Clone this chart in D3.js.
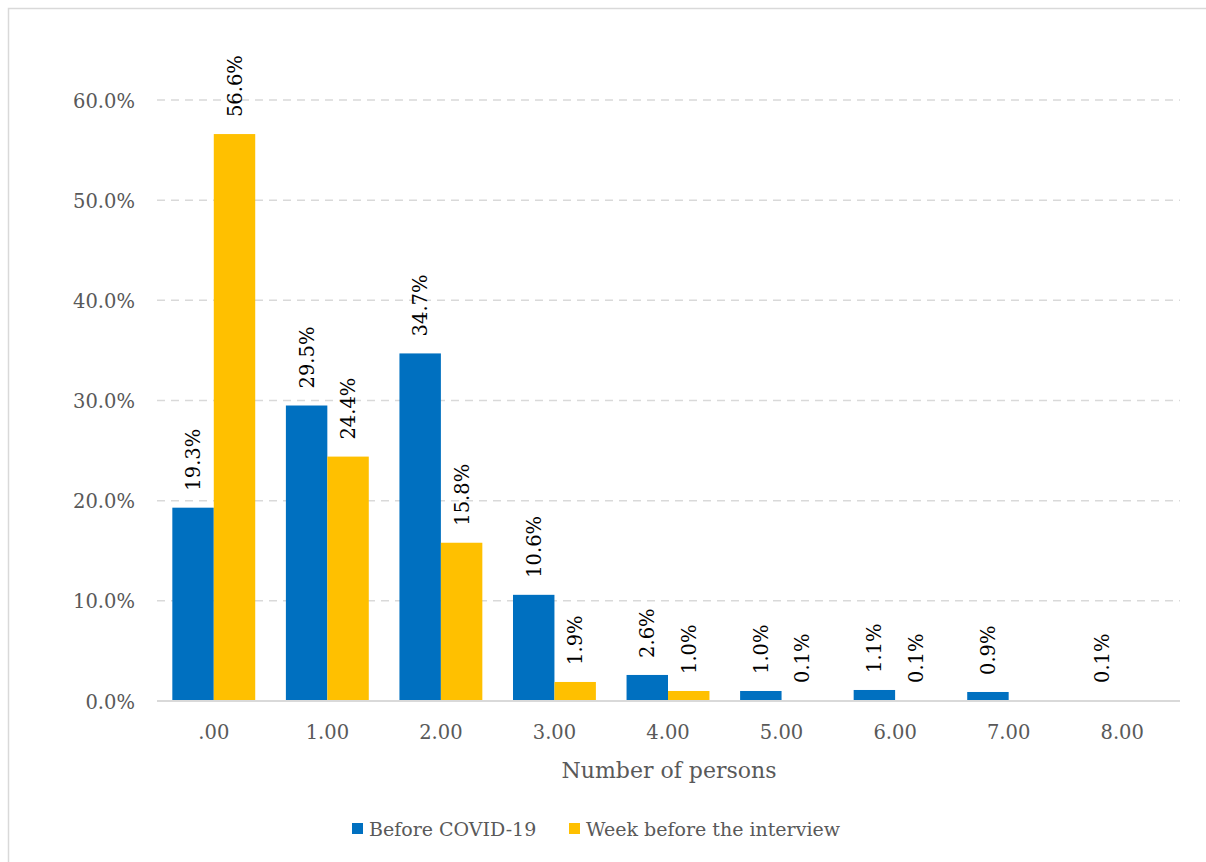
<!DOCTYPE html>
<html>
<head>
<meta charset="utf-8">
<script src="https://cdn.jsdelivr.net/npm/d3@7"></script>
<style>
  html, body { margin: 0; padding: 0; background: #fff; }
  svg { display: block; }
  text { font-family: "DejaVu Serif", serif; }
</style>
</head>
<body>
<svg id="chart" width="1206" height="862"></svg>
<script>
const categories = [".00", "1.00", "2.00", "3.00", "4.00", "5.00", "6.00", "7.00", "8.00"];
const seriesNames = ["Before COVID-19", "Week before the interview"];
const beforeCovid = [19.3, 29.5, 34.7, 10.6, 2.6, 1.0, 1.1, 0.9, 0.1];
const weekBefore = [56.6, 24.4, 15.8, 1.9, 1.0, 0.1, 0.1, null, null];
const yTicks = [0, 10, 20, 30, 40, 50, 60];
const colors = ["#0070C0", "#FFC000"];

const svg = d3.select("#chart");
const W = 1206, H = 862;

// outer chart border (only top/left visible in frame)
svg.append("rect")
  .attr("x", 8.5).attr("y", 8.5)
  .attr("width", W + 20).attr("height", H + 20)
  .attr("fill", "#fff").attr("stroke", "#d9d9d9").attr("stroke-width", 1.5);

const x0 = d3.scaleBand().domain(categories).range([157, 1179])
  .paddingInner(0.27).paddingOuter(0.135);
const x1 = d3.scaleBand().domain([0, 1]).range([0, x0.bandwidth()]);
const y = d3.scaleLinear().domain([0, 60]).range([701, 100]);

// gridlines
svg.append("g").selectAll("line").data(yTicks.filter(d => d > 0)).join("line")
  .attr("x1", 157).attr("x2", 1180)
  .attr("y1", d => y(d)).attr("y2", d => y(d))
  .attr("stroke", "#d9d9d9").attr("stroke-width", 1.5)
  .attr("stroke-dasharray", "8,6");

// y axis labels
const yAxis = d3.axisLeft(y).tickValues(yTicks).tickSize(0).tickPadding(0)
  .tickFormat(d => d.toFixed(1) + "%");
const gy = svg.append("g").attr("transform", "translate(135,0)").call(yAxis);
gy.select(".domain").remove();
gy.selectAll("text").attr("font-family", "DejaVu Serif").attr("font-size", 19.5)
  .attr("fill", "#595959").attr("dy", "0.36em");

// bars
const rows = categories.map((c, i) => ({ cat: c, vals: [beforeCovid[i], weekBefore[i]] }));
const groups = svg.append("g").selectAll("g").data(rows).join("g")
  .attr("transform", d => `translate(${x0(d.cat)},0)`);

groups.selectAll("rect").data(d => d.vals.map((v, k) => ({ v, k })).filter(e => e.v != null)).join("rect")
  .attr("x", e => x1(e.k)).attr("width", x1.bandwidth())
  .attr("y", e => y(e.v)).attr("height", e => Math.max(1, y(0) - y(e.v)))
  .attr("fill", e => colors[e.k]);

// data labels
groups.selectAll("text").data(d => d.vals.map((v, k) => ({ v, k })).filter(e => e.v != null)).join("text")
  .attr("transform", e => `translate(${x1(e.k) + x1.bandwidth() / 2},${y(e.v) - 17}) rotate(-90)`)
  .attr("dy", "0.36em")
  .attr("text-anchor", "start")
  .attr("font-size", 19.5)
  .attr("fill", "#000")
  .text(e => e.v.toFixed(1) + "%");

// x axis
const xAxis = d3.axisBottom(x0).tickSize(0).tickPadding(0);
const gx = svg.append("g").attr("transform", "translate(0,701)").call(xAxis);
gx.select(".domain").attr("d", "M157,0H1180").attr("stroke", "#d9d9d9").attr("stroke-width", 2);
gx.selectAll("text").attr("font-family", "DejaVu Serif").attr("font-size", 19.5)
  .attr("fill", "#595959").attr("dy", null).attr("y", 38);

// axis title
svg.append("text").attr("x", 669).attr("y", 778).attr("text-anchor", "middle")
  .attr("font-size", 22).attr("fill", "#595959").text("Number of persons");

// legend
const legendX = [352, 569];
const lg = svg.append("g").selectAll("g").data(seriesNames).join("g")
  .attr("transform", (d, i) => `translate(${legendX[i]},823)`);
lg.append("rect").attr("width", 11).attr("height", 11).attr("fill", (d, i) => colors[i]);
lg.append("text").attr("x", 17).attr("y", 13).attr("font-size", 19)
  .attr("fill", "#595959").text(d => d);
</script>
</body>
</html>
